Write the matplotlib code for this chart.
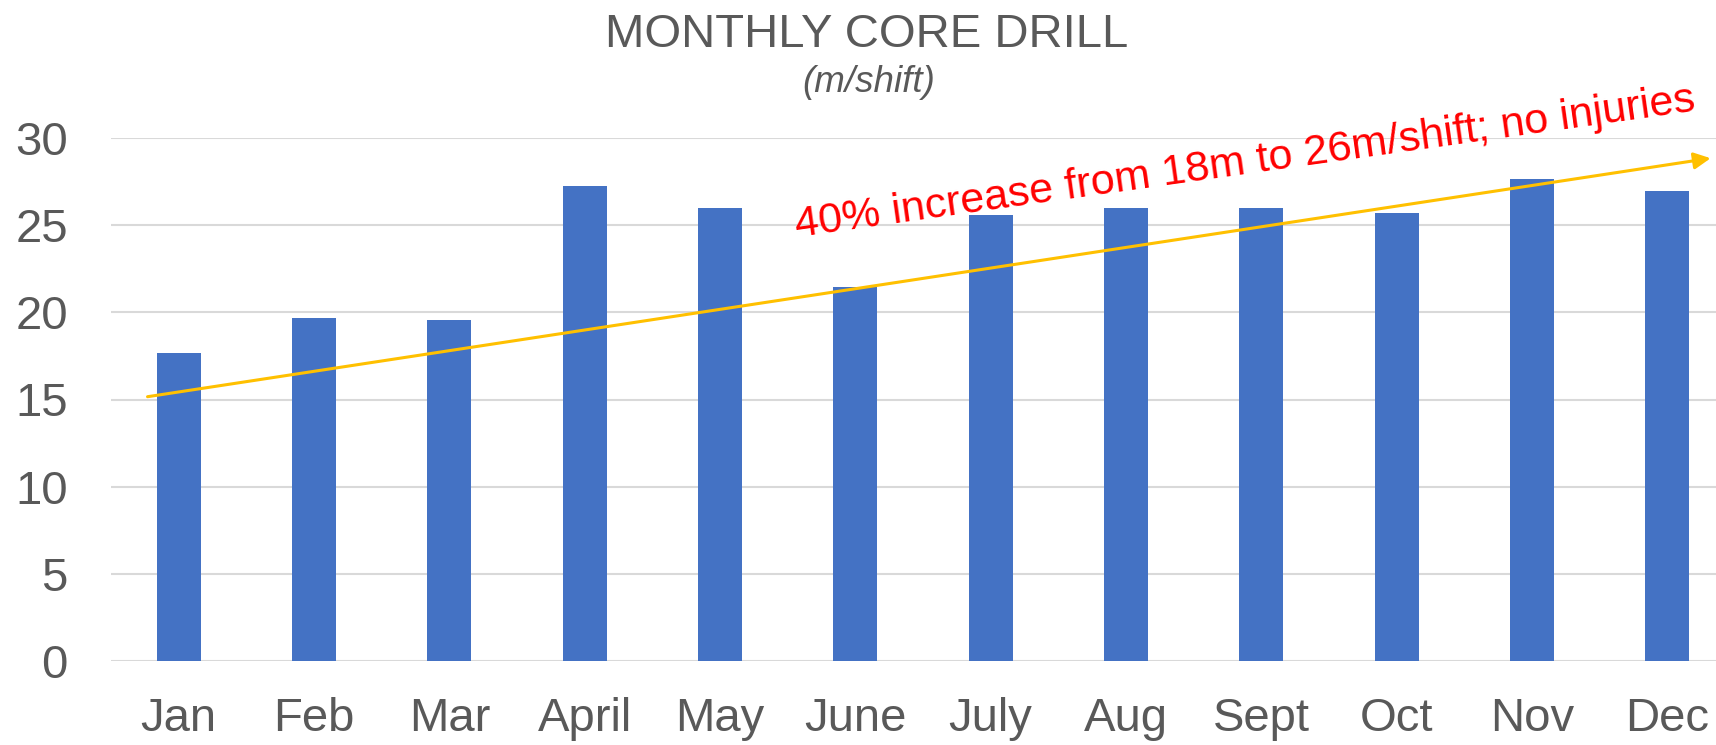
import matplotlib.pyplot as plt

plt.rcParams['font.family'] = ['Liberation Sans', 'DejaVu Sans']

# data
months = ['Jan', 'Feb', 'Mar', 'April', 'May', 'June', 'July', 'Aug', 'Sept', 'Oct', 'Nov', 'Dec']
metres_per_shift = [17.65, 19.68, 19.55, 27.27, 25.97, 21.46, 25.57, 26.01, 26.0, 25.7, 27.63, 26.98]
yticks = [0, 5, 10, 15, 20, 25, 30]

# trend arrow (category index, value) and its note
arrow_start = (-0.23, 15.16)
arrow_end = (11.32, 28.84)
note = '40% increase from 18m to 26m/shift; no injuries'
note_pos = (4.57, 24.3)

grey = '#595959'

fig = plt.figure(figsize=(17.16, 7.45), dpi=100)
ax = fig.add_axes([111 / 1716, 84 / 745, 1624 / 1716, 523 / 745])

x = list(range(len(months)))
ax.bar(x, metres_per_shift, width=0.327, color='#4472C4', zorder=2)

ax.set_xlim(-0.5, 11.5)
ax.set_ylim(0, 30)
ax.set_yticks(yticks)
ax.set_xticks(x)
ax.set_xticklabels(months)
ax.grid(axis='y', color='#D9D9D9', linewidth=1.5, zorder=0)
ax.set_axisbelow(True)
for s in ax.spines.values():
    s.set_visible(False)
ax.tick_params(axis='both', length=0, labelsize=34, colors=grey)
ax.tick_params(axis='x', pad=26)
ax.tick_params(axis='y', pad=31)

ax.annotate('', xy=arrow_end, xytext=arrow_start,
            arrowprops=dict(arrowstyle='-|>', color='#FFC000', lw=2.2,
                            mutation_scale=25, shrinkA=0, shrinkB=0),
            zorder=4)

ax.text(note_pos[0], note_pos[1], note, color='red', fontsize=31,
        rotation=8.0, rotation_mode='anchor', ha='left', va='baseline', zorder=5)

fig.text(0.505, 1 - 47 / 745, 'MONTHLY CORE DRILL', ha='center', va='baseline',
         fontsize=34, color=grey)
fig.text(0.506, 1 - 92 / 745, '(m/shift)', ha='center', va='baseline',
         fontsize=26.5, color=grey, style='italic')

fig.savefig('out.png', dpi=100)
